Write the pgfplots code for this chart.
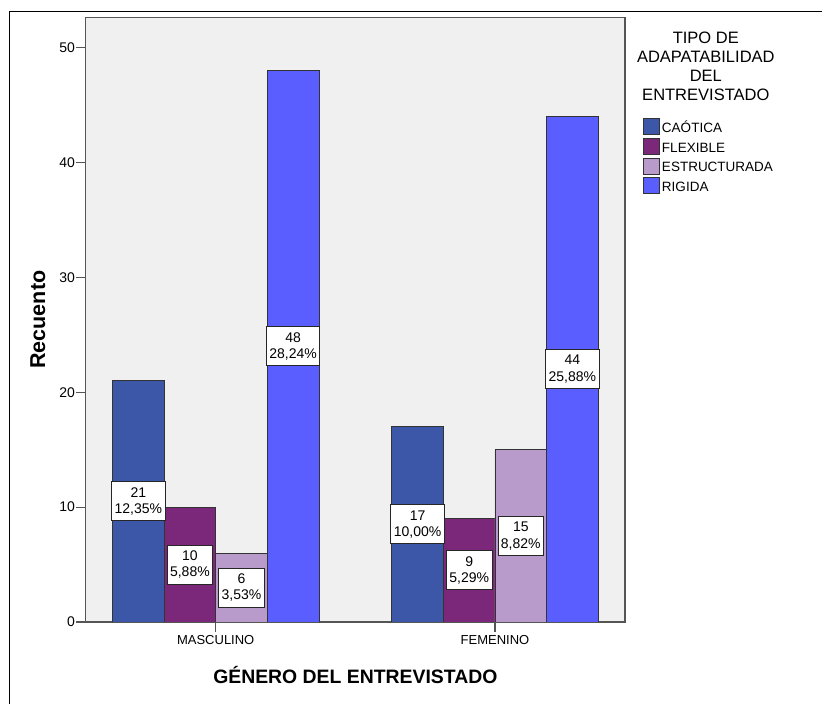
\documentclass[border=0pt]{standalone}
\usepackage{pgfplots}
\pgfplotsset{compat=1.18}
\usepackage{fontspec}
\setmainfont{Liberation Sans}
\definecolor{caotica}{RGB}{60,86,168}
\definecolor{flexible}{RGB}{124,40,122}
\definecolor{estruct}{RGB}{184,154,203}
\definecolor{rigida}{RGB}{90,94,255}
\definecolor{plotbg}{RGB}{240,240,240}
\definecolor{framegray}{RGB}{85,85,85}
\begin{document}
\begin{tikzpicture}
\useasboundingbox (0pt,0pt) rectangle (822pt,704pt);
\draw[black, line width=1pt] (9pt,0pt) -- (9pt,692pt) -- (822pt,692pt);
\begin{axis}[
  at={(85.7pt,82pt)}, anchor=south west,
  scale only axis, width=539.3pt, height=604.7pt,
  xmin=-0.4655, xmax=1.4655, ymin=0, ymax=52.65,
  ybar, bar width=0.1848,
  axis background/.style={fill=plotbg},
  axis line style={framegray, line width=1.3pt},
  xtick={0,1}, xticklabels={MASCULINO,FEMENINO},
  ytick={0,10,20,30,40,50},
  tick align=outside, xtick pos=left, ytick pos=left,
  major tick length=9.5pt,
  tick style={framegray, line width=1.2pt},
  /pgf/number format/assume math mode=true,
  yticklabel style={font=\fontsize{14}{16}\selectfont, inner sep=1pt},
  xticklabel style={font=\fontsize{13}{15}\selectfont},
  xlabel={GÉNERO DEL ENTREVISTADO},
  ylabel={Recuento},
  every axis x label/.style={at={([yshift=-61.3pt]axis description cs:0.5,0)}, anchor=base, font=\bfseries\fontsize{19.4}{22}\selectfont},
  every axis y label/.style={at={([xshift=-40.7pt]axis description cs:0,0.5)}, rotate=90, anchor=base, font=\bfseries\fontsize{21.5}{24}\selectfont},
  legend style={at={(axis description cs:1.0328,0.8335)}, anchor=north west, draw=none, fill=none, inner sep=0pt, outer sep=0pt, row sep=3pt, column sep=2.5pt, font=\fontsize{13.5}{15}\selectfont, nodes={inner sep=0pt, text height=10pt, text depth=0pt}},
  legend cell align=left,
  legend image code/.code={\draw[#1, draw=black!80, line width=0.8pt] (0pt,-7pt) rectangle (16pt,9pt);},
  nodes near coords,
  point meta=explicit symbolic,
  visualization depends on=rawy \as \rawy,
  every node near coord/.append style={anchor=center, shift={(axis direction cs:0,-\rawy/2)}, fill=white, draw=black!85, line width=0.9pt, align=center, font=\fontsize{14}{16.5}\selectfont, inner xsep=3pt, inner ysep=5.5pt, text=black},
]
\addplot[fill=caotica, draw=black!80, line width=0.8pt, bar shift=-0.2772] coordinates {(0,21) [21\\12,35\%] (1,17) [17\\10,00\%]};
\addplot[fill=flexible, draw=black!80, line width=0.8pt, bar shift=-0.0924] coordinates {(0,10) [10\\5,88\%] (1,9) [9\\5,29\%]};
\addplot[fill=estruct, draw=black!80, line width=0.8pt, bar shift=0.0924] coordinates {(0,6) [6\\3,53\%] (1,15) [15\\8,82\%]};
\addplot[fill=rigida, draw=black!80, line width=0.8pt, bar shift=0.2772] coordinates {(0,48) [48\\28,24\%] (1,44) [44\\25,88\%]};
\legend{CAÓTICA,FLEXIBLE,ESTRUCTURADA,RIGIDA}
\end{axis}
\node[align=center, anchor=north, inner sep=0pt, font=\fontsize{16.5}{18.9}\selectfont] at (705.8pt,672pt) {TIPO DE\\ADAPATABILIDAD\\DEL\\ENTREVISTADO};
\end{tikzpicture}
\end{document}
